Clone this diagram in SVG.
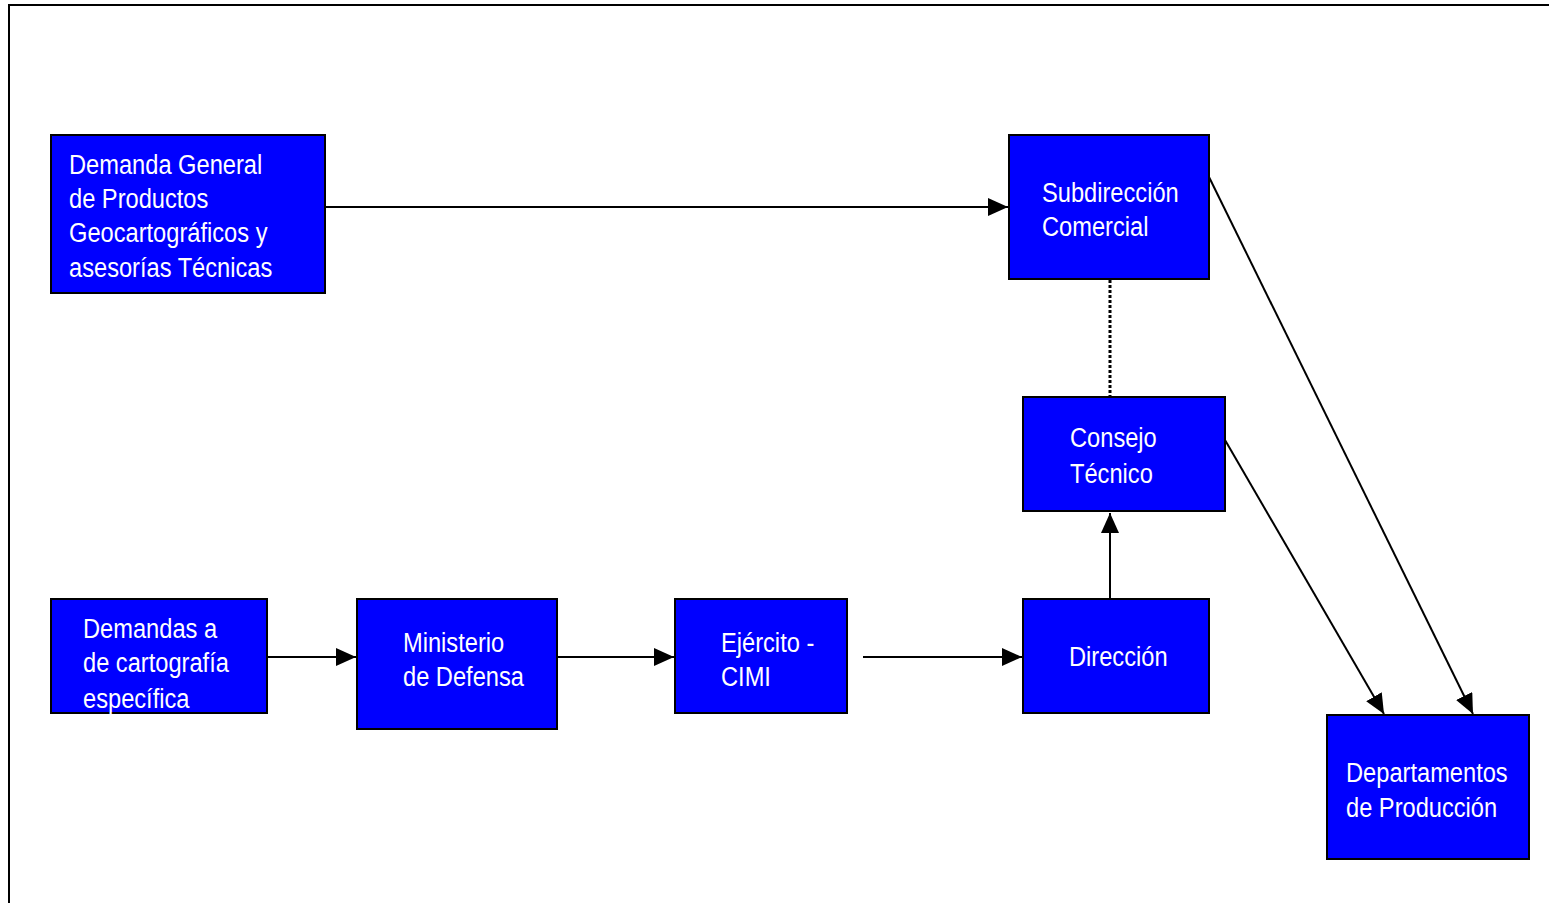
<svg xmlns="http://www.w3.org/2000/svg" width="1549" height="903" viewBox="0 0 1549 903">
<style>
.box{fill:#0000ff;stroke:#000;stroke-width:2}
.t{font-family:"Liberation Sans",Arial,sans-serif;font-size:28px;fill:#fff}
.ln{stroke:#000;stroke-width:2;fill:none}
</style>
<defs>
<marker id="a" viewBox="0 0 20 18" refX="20" refY="9" markerWidth="20" markerHeight="18" markerUnits="userSpaceOnUse" orient="auto">
<path d="M0,0 L20,9 L0,18 Z" fill="#000"/>
</marker>
</defs>
<rect x="0" y="0" width="1549" height="903" fill="#fff"/>
<path d="M9,903 L9,5 L1549,5" stroke="#000" stroke-width="2" fill="none"/>
<g id="connectors">
<line class="ln" x1="326" y1="207" x2="1008" y2="207" marker-end="url(#a)"/>
<line x1="1110" y1="280" x2="1110" y2="396" stroke="#000" stroke-width="3" stroke-dasharray="3,2"/>
<line class="ln" x1="1110" y1="599" x2="1110" y2="513" marker-end="url(#a)"/>
<line class="ln" x1="268" y1="657" x2="356" y2="657" marker-end="url(#a)"/>
<line class="ln" x1="557" y1="657" x2="674" y2="657" marker-end="url(#a)"/>
<line class="ln" x1="863" y1="657" x2="1022" y2="657" marker-end="url(#a)"/>
<line class="ln" x1="1209" y1="177" x2="1473" y2="714" marker-end="url(#a)"/>
<line class="ln" x1="1225" y1="440" x2="1384" y2="714" marker-end="url(#a)"/>
</g>
<g id="n1"><rect class="box" x="51" y="135" width="274" height="158"/>
<text class="t" transform="translate(69,0) scale(0.845,1)"><tspan x="0" y="174">Demanda General</tspan><tspan x="0" y="208">de Productos</tspan><tspan x="0" y="242">Geocartográficos y</tspan><tspan x="0" y="277">asesorías Técnicas</tspan></text></g>
<g id="n2"><rect class="box" x="1009" y="135" width="200" height="144"/>
<text class="t" transform="translate(1042,0) scale(0.845,1)"><tspan x="0" y="202">Subdirección</tspan><tspan x="0" y="236">Comercial</tspan></text></g>
<g id="n3"><rect class="box" x="1023" y="397" width="202" height="114"/>
<text class="t" transform="translate(1070,0) scale(0.845,1)"><tspan x="0" y="447">Consejo</tspan><tspan x="0" y="483">Técnico</tspan></text></g>
<g id="n4"><rect class="box" x="51" y="599" width="216" height="114"/>
<text class="t" transform="translate(83,0) scale(0.845,1)"><tspan x="0" y="638">Demandas a</tspan><tspan x="0" y="672">de cartografía</tspan><tspan x="0" y="708">específica</tspan></text></g>
<g id="n5"><rect class="box" x="357" y="599" width="200" height="130"/>
<text class="t" transform="translate(403,0) scale(0.845,1)"><tspan x="0" y="652">Ministerio</tspan><tspan x="0" y="686">de Defensa</tspan></text></g>
<g id="n6"><rect class="box" x="675" y="599" width="172" height="114"/>
<text class="t" transform="translate(721,0) scale(0.845,1)"><tspan x="0" y="652">Ejército -</tspan><tspan x="0" y="686">CIMI</tspan></text></g>
<g id="n7"><rect class="box" x="1023" y="599" width="186" height="114"/>
<text class="t" transform="translate(1069,0) scale(0.845,1)"><tspan x="0" y="666">Dirección</tspan></text></g>
<g id="n8"><rect class="box" x="1327" y="715" width="202" height="144"/>
<text class="t" transform="translate(1346,0) scale(0.845,1)"><tspan x="0" y="782">Departamentos</tspan><tspan x="0" y="817">de Producción</tspan></text></g>
</svg>
